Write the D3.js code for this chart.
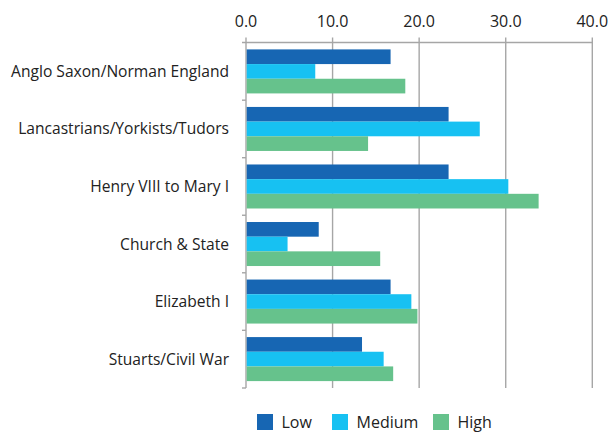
<!DOCTYPE html>
<html>
<head>
<meta charset="utf-8">
<script src="https://cdn.jsdelivr.net/npm/d3@7"></script>
<style>
  body { margin: 0; background: #fff; }
  svg { display: block; font-family: "Open Sans", "DejaVu Sans", sans-serif; }
  .lbl { font-size: 15.6px; fill: #222; }
  .tick-lbl { font-size: 16px; fill: #222; }
  .leg { font-size: 16px; fill: #222; }
</style>
</head>
<body>
<svg id="chart" width="609" height="432"></svg>
<script>
// categories, top to bottom
const categories = [
  'Anglo Saxon/Norman England',
  'Lancastrians/Yorkists/Tudors',
  'Henry VIII to Mary I',
  'Church & State',
  'Elizabeth I',
  'Stuarts/Civil War'
];
const seriesNames = ['Low', 'Medium', 'High'];
const lowVals = [16.7, 23.4, 23.4, 8.4, 16.7, 13.4];
const mediumVals = [8.0, 27.0, 30.3, 4.8, 19.1, 15.9];
const highVals = [18.4, 14.1, 33.8, 15.5, 19.8, 17.0];
const xTicks = [0, 10, 20, 30, 40];

const colors = { Low: '#1766b3', Medium: '#17c1f2', High: '#66c28c' };

const svg = d3.select('#chart');
const plotL = 246, plotR = 592.3, plotT = 42.5, plotB = 388;

const x = d3.scaleLinear().domain([0, 40]).range([plotL, plotR]);
const y = d3.scaleBand().domain(categories).range([plotT, plotB]).paddingInner(0.235).paddingOuter(0.12);
const ySub = d3.scaleBand().domain(seriesNames).range([0, y.bandwidth()]);

const rows = categories.map((c, i) => ({
  cat: c, Low: lowVals[i], Medium: mediumVals[i], High: highVals[i]
}));

// gridlines
svg.append('g').selectAll('line')
  .data(xTicks.slice(1))
  .join('line')
  .attr('x1', d => x(d)).attr('x2', d => x(d))
  .attr('y1', plotT - 5).attr('y2', plotB)
  .attr('stroke', '#a6a6a6').attr('stroke-width', 1.4);

// top axis line + left axis line
svg.append('line')
  .attr('x1', plotL - 4).attr('x2', plotR).attr('y1', plotT).attr('y2', plotT)
  .attr('stroke', '#a6a6a6').attr('stroke-width', 1.4);
svg.append('line')
  .attr('x1', plotL).attr('x2', plotL).attr('y1', plotT - 5).attr('y2', plotB)
  .attr('stroke', '#a6a6a6').attr('stroke-width', 1.4);

svg.append('g').selectAll('text')
  .data(xTicks)
  .join('text')
  .attr('class', 'tick-lbl')
  .attr('x', d => x(d)).attr('y', 26.5)
  .attr('text-anchor', 'middle')
  .text(d => d.toFixed(1));

// left category ticks
const boundaries = categories.map(c => y(c) - y.step() * y.paddingInner() / 2).concat([plotB]);
svg.append('g').selectAll('line')
  .data(boundaries.slice(1))
  .join('line')
  .attr('x1', plotL - 4).attr('x2', plotL)
  .attr('y1', d => d).attr('y2', d => d)
  .attr('stroke', '#a6a6a6').attr('stroke-width', 1.4);

// bars
const groups = svg.append('g').selectAll('g')
  .data(rows)
  .join('g')
  .attr('transform', d => `translate(0,${y(d.cat)})`);

groups.selectAll('rect')
  .data(d => seriesNames.map(s => ({ s, v: d[s] })))
  .join('rect')
  .attr('x', x(0) + 0.7)
  .attr('y', d => ySub(d.s))
  .attr('width', d => x(d.v) - x(0) - 0.7)
  .attr('height', ySub.bandwidth())
  .attr('fill', d => colors[d.s]);

// category labels
svg.append('g').selectAll('text')
  .data(categories)
  .join('text')
  .attr('class', 'lbl')
  .attr('x', 229)
  .attr('y', c => y(c) + y.bandwidth() / 2 + 5.5)
  .attr('text-anchor', 'end')
  .text(c => c);

// legend
const legX = [257, 332, 433];
const leg = svg.append('g').selectAll('g')
  .data(seriesNames)
  .join('g')
  .attr('transform', (d, i) => `translate(${legX[i]},414)`);
leg.append('rect').attr('width', 16).attr('height', 16).attr('fill', d => colors[d]);
leg.append('text').attr('class', 'leg').attr('x', 24.5).attr('y', 13.5).text(d => d);
</script>
</body>
</html>
